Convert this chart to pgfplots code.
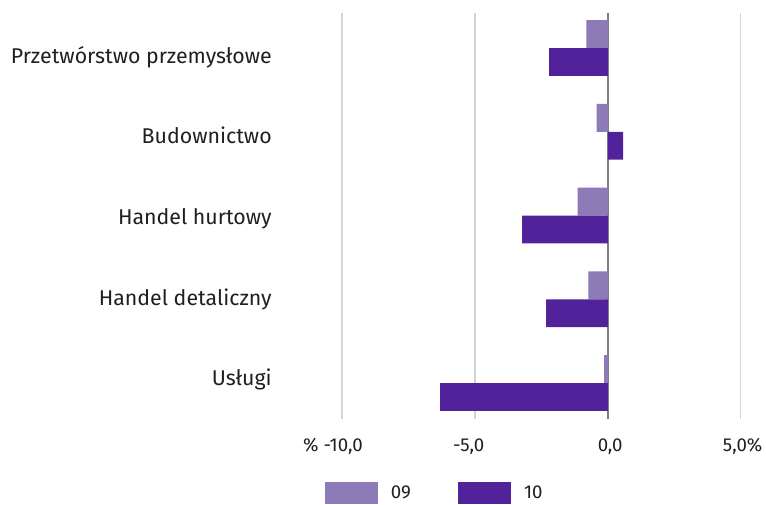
\documentclass[border=0pt]{standalone}
\usepackage{fontspec}
\setmainfont{Fira Sans}
\usepackage{pgfplots}
\pgfplotsset{compat=1.18}
\definecolor{c09}{HTML}{8D7BB8}
\definecolor{c10}{HTML}{51229A}
\definecolor{gridc}{HTML}{D4D4D4}
\definecolor{zeroc}{HTML}{808080}
\definecolor{txt}{HTML}{1F1F1F}
\begin{document}
\begin{tikzpicture}
\begin{axis}[
  name=ax,
  scale only axis,
  width=298.8pt, height=304.5pt,
  xmin=-10, xmax=5, ymin=-0.433, ymax=4.415,
  xbar, bar width=0.334,
  axis line style={draw=none},
  major tick length=0pt,
  xtick={-10,-5,0,5},
  xticklabels={{\% -10,0\kern14pt}, {-5,0\kern9.5pt}, {\kern3.5pt 0,0}, {\kern3pt 5,0\%}},
  xmajorgrids,
  grid style={gridc, line width=1.2pt},
  extra x ticks={0},
  extra x tick labels={},
  extra x tick style={grid style={zeroc, line width=1.1pt}},
  % category names sit on their own baselines (slightly tighter than the bars)
  ytick={-0.035,0.928,1.891,2.854,3.818},
  yticklabels={Usługi, Handel detaliczny, Handel hurtowy, Budownictwo, Przetwórstwo przemysłowe},
  every tick label/.append style={font=\fontsize{14pt}{16pt}\selectfont, text=txt},
  yticklabel style={anchor=base east, inner sep=0pt, xshift=-52.7pt,
    font=\fontsize{16pt}{18pt}\selectfont},
  xticklabel style={anchor=base, inner sep=0pt, yshift=-24.3pt},
  legend style={at={(-0.0434,-0.1815)}, anchor=west, draw=none, inner sep=0pt, outer sep=0pt,
    font=\fontsize{14pt}{16pt}\selectfont, text=txt,
    nodes={inner sep=0pt},
    /tikz/every odd column/.append style={column sep=9.75pt},
    /tikz/every even column/.append style={column sep=35.25pt}},
  legend columns=2,
  legend cell align=left,
  legend image code/.code={\fill[#1] (0pt,-8.25pt) rectangle (39.75pt,8.25pt);},
]
% 09
\addplot[fill=c09, draw=none, bar shift=0.167] coordinates {
  (-0.14,0) (-0.73,1) (-1.14,2) (-0.42,3) (-0.81,4)
};
% 10
\addplot[fill=c10, draw=none, bar shift=-0.167] coordinates {
  (-6.32,0) (-2.32,1) (-3.23,2) (0.57,3) (-2.21,4)
};
\legend{09,10}
\end{axis}
\pgfresetboundingbox
\path[use as bounding box] (ax.south west) ++(-256.7pt,-64.3pt) rectangle ++(574.5pt,378.75pt);
\end{tikzpicture}
\end{document}
